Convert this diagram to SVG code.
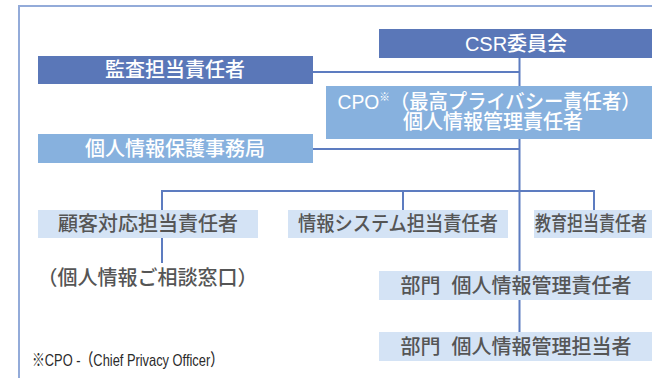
<svg xmlns="http://www.w3.org/2000/svg" width="652" height="378" viewBox="0 0 652 378">
<style>
.dark{fill:#5a77b8}
.mid{fill:#87b1de}
.light{fill:#d4e3f5}
text{font-family:"Liberation Sans","Noto Sans CJK JP",sans-serif;font-weight:500}
.w{fill:#ffffff;font-size:20px;text-anchor:middle;dominant-baseline:central}
.g{fill:#555555;font-size:20px;text-anchor:middle;dominant-baseline:central}
.con{stroke:#5d7cc0;stroke-width:2;fill:none}
</style>
<rect x="19" y="6" width="660" height="400" fill="none" stroke="#93abd9" stroke-width="2"/>
<g id="connectors">
<path class="con" d="M519.5 58V271M313 72H519.5M313 149H519.5M162 210V191H594V210M403 191V210M162 238V263M519.5 300V332"/>
</g>
<g id="csr">
<rect class="dark" x="379" y="29" width="273" height="29"/>
<text class="w" x="516" y="44">CSR委員会</text>
</g>
<g id="audit">
<rect class="dark" x="38" y="56" width="275" height="28"/>
<text class="w" x="175" y="70">監査担当責任者</text>
</g>
<g id="cpo">
<rect class="mid" x="326" y="86" width="326" height="53"/>
<text class="w" x="489" y="102" textLength="303" lengthAdjust="spacingAndGlyphs">CPO<tspan font-size="11" dy="-5">※</tspan><tspan dy="5">（最高プライバシー責任者）</tspan></text>
<text class="w" x="493" y="122">個人情報管理責任者</text>
</g>
<g id="office">
<rect class="mid" x="38" y="134" width="275" height="29"/>
<text class="w" x="175" y="148.5">個人情報保護事務局</text>
</g>
<g id="customer">
<rect class="light" x="38" y="210" width="220" height="28"/>
<text class="g" x="148" y="224">顧客対応担当責任者</text>
</g>
<g id="system">
<rect class="light" x="288" y="210" width="220" height="28"/>
<text class="g" x="398" y="224" font-size="19" textLength="200" lengthAdjust="spacingAndGlyphs">情報システム担当責任者</text>
</g>
<g id="education">
<rect class="light" x="534" y="210" width="118" height="28"/>
<text class="g" transform="translate(591 224) scale(0.8 1)" x="0" y="0" font-size="18">教育担当責任者</text>
</g>
<g id="consult">
<text class="g" x="147.5" y="278">（個人情報ご相談窓口）</text>
</g>
<g id="dept-manager">
<rect class="light" x="379" y="271" width="273" height="29"/>
<text class="g" x="516" y="285.5">部門<tspan dx="11">個人情報管理責任者</tspan></text>
</g>
<g id="dept-staff">
<rect class="light" x="379" y="332" width="273" height="29"/>
<text class="g" x="516" y="346.5">部門<tspan dx="11">個人情報管理担当者</tspan></text>
</g>
<text x="32" y="366" font-size="17" fill="#2a2a2a" textLength="191" lengthAdjust="spacingAndGlyphs">※CPO -（Chief Privacy Officer）</text>
</svg>
